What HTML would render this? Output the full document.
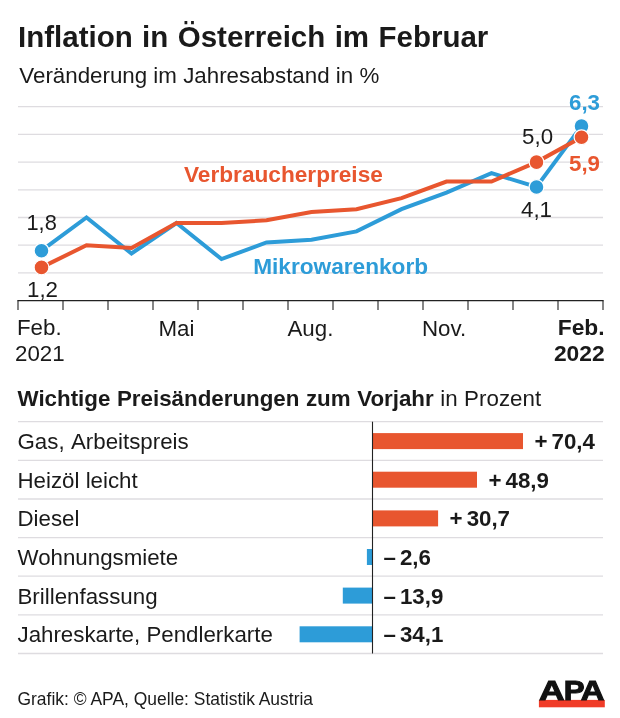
<!DOCTYPE html><html lang="de"><head><meta charset="utf-8"><title>Inflation in Österreich im Februar</title>
<style>html,body{margin:0;padding:0;background:#fff}svg{display:block}text{font-family:"Liberation Sans",Arial,Helvetica,sans-serif;fill:#1a1a1a;font-size:22.3px}.b{font-weight:bold}</style></head><body>
<svg width="620" height="718" viewBox="0 0 620 718">
<rect width="620" height="718" fill="#fff"/>
<text class="b" x="18" y="46.6" style="font-size:29.5px;word-spacing:1.2px" id="t1">Inflation in Österreich im Februar</text>
<text x="19.3" y="82.7" style="font-size:22.33px">Veränderung im Jahresabstand in %</text>
<line x1="18" x2="603" y1="272.9" y2="272.9" stroke="#dedce0" stroke-width="1.3"/>
<line x1="18" x2="603" y1="245.2" y2="245.2" stroke="#dedce0" stroke-width="1.3"/>
<line x1="18" x2="603" y1="217.5" y2="217.5" stroke="#dedce0" stroke-width="1.3"/>
<line x1="18" x2="603" y1="189.8" y2="189.8" stroke="#dedce0" stroke-width="1.3"/>
<line x1="18" x2="603" y1="162.1" y2="162.1" stroke="#dedce0" stroke-width="1.3"/>
<line x1="18" x2="603" y1="134.4" y2="134.4" stroke="#dedce0" stroke-width="1.3"/>
<line x1="18" x2="603" y1="106.7" y2="106.7" stroke="#dedce0" stroke-width="1.3"/>
<line x1="17.4" x2="603.6" y1="300.6" y2="300.6" stroke="#222" stroke-width="1.1"/>
<line x1="18.0" x2="18.0" y1="300.6" y2="310.1" stroke="#222" stroke-width="1.1"/>
<line x1="63.0" x2="63.0" y1="300.6" y2="310.1" stroke="#222" stroke-width="1.1"/>
<line x1="108.0" x2="108.0" y1="300.6" y2="310.1" stroke="#222" stroke-width="1.1"/>
<line x1="153.0" x2="153.0" y1="300.6" y2="310.1" stroke="#222" stroke-width="1.1"/>
<line x1="198.0" x2="198.0" y1="300.6" y2="310.1" stroke="#222" stroke-width="1.1"/>
<line x1="243.0" x2="243.0" y1="300.6" y2="310.1" stroke="#222" stroke-width="1.1"/>
<line x1="288.0" x2="288.0" y1="300.6" y2="310.1" stroke="#222" stroke-width="1.1"/>
<line x1="333.0" x2="333.0" y1="300.6" y2="310.1" stroke="#222" stroke-width="1.1"/>
<line x1="378.0" x2="378.0" y1="300.6" y2="310.1" stroke="#222" stroke-width="1.1"/>
<line x1="423.0" x2="423.0" y1="300.6" y2="310.1" stroke="#222" stroke-width="1.1"/>
<line x1="468.0" x2="468.0" y1="300.6" y2="310.1" stroke="#222" stroke-width="1.1"/>
<line x1="513.0" x2="513.0" y1="300.6" y2="310.1" stroke="#222" stroke-width="1.1"/>
<line x1="558.0" x2="558.0" y1="300.6" y2="310.1" stroke="#222" stroke-width="1.1"/>
<line x1="603.0" x2="603.0" y1="300.6" y2="310.1" stroke="#222" stroke-width="1.1"/>
<polyline points="41.5,250.7 86.5,217.5 131.5,253.5 176.5,223.0 221.5,259.1 266.5,242.4 311.5,239.7 356.5,231.4 401.5,209.2 446.5,192.6 491.5,173.2 536.5,187.0 581.5,126.1" fill="none" stroke="#2d9cd8" stroke-width="4" stroke-linejoin="miter"/>
<polyline points="41.5,267.4 86.5,245.2 131.5,248.0 176.5,223.0 221.5,223.0 266.5,220.3 311.5,212.0 356.5,209.2 401.5,198.1 446.5,181.5 491.5,181.5 536.5,162.1 581.5,137.2" fill="none" stroke="#e8562f" stroke-width="4" stroke-linejoin="miter"/>
<circle cx="41.5" cy="250.7" r="7.4" fill="#2d9cd8" stroke="#fff" stroke-width="1.2"/>
<circle cx="41.5" cy="267.4" r="7.4" fill="#e8562f" stroke="#fff" stroke-width="1.2"/>
<circle cx="536.5" cy="187.0" r="7.4" fill="#2d9cd8" stroke="#fff" stroke-width="1.2"/>
<circle cx="536.5" cy="162.1" r="7.4" fill="#e8562f" stroke="#fff" stroke-width="1.2"/>
<circle cx="581.5" cy="126.1" r="7.4" fill="#2d9cd8" stroke="#fff" stroke-width="1.2"/>
<circle cx="581.5" cy="137.2" r="7.4" fill="#e8562f" stroke="#fff" stroke-width="1.2"/>
<text x="26.5" y="229.8" style="font-size:21.8px">1,8</text>
<text x="27" y="297">1,2</text>
<text x="522.1" y="143.6">5,0</text>
<text x="521" y="216.6">4,1</text>
<text class="b" x="569" y="109.5" style="fill:#2d9cd8">6,3</text>
<text class="b" x="569" y="170.5" style="fill:#e8562f">5,9</text>
<text class="b" x="184" y="181.6" style="fill:#e8562f;font-size:22.65px">Verbraucherpreise</text>
<text class="b" x="253.2" y="273.8" style="fill:#2d9cd8;font-size:22.65px">Mikrowarenkorb</text>
<text x="17" y="335.4">Feb.</text>
<text x="15" y="360.8">2021</text>
<text x="158.5" y="336">Mai</text>
<text x="287.5" y="336">Aug.</text>
<text x="422" y="336">Nov.</text>
<text class="b" x="604.6" y="335.2" style="text-anchor:end;font-size:22.8px">Feb.</text>
<text class="b" x="604.6" y="360.5" style="text-anchor:end;font-size:22.8px">2022</text>
<text x="17.5" y="406" style="font-size:22.35px;word-spacing:0.3px"><tspan class="b">Wichtige Preisänderungen zum Vorjahr</tspan> in Prozent</text>
<line x1="18" x2="603" y1="421.7" y2="421.7" stroke="#dedce0" stroke-width="1.3"/>
<line x1="18" x2="603" y1="460.3" y2="460.3" stroke="#dedce0" stroke-width="1.3"/>
<line x1="18" x2="603" y1="499.0" y2="499.0" stroke="#dedce0" stroke-width="1.3"/>
<line x1="18" x2="603" y1="537.6" y2="537.6" stroke="#dedce0" stroke-width="1.3"/>
<line x1="18" x2="603" y1="576.2" y2="576.2" stroke="#dedce0" stroke-width="1.3"/>
<line x1="18" x2="603" y1="614.9" y2="614.9" stroke="#dedce0" stroke-width="1.3"/>
<line x1="18" x2="603" y1="653.5" y2="653.5" stroke="#dedce0" stroke-width="1.3"/>
<text x="17.5" y="449.1" style="word-spacing:1.4px">Gas, Arbeitspreis</text>
<rect x="372.5" y="433.1" width="150.5" height="16" fill="#e8562f"/>
<text class="b" x="534.5" y="449.1">+<tspan dx="4">70,4</tspan></text>
<text x="17.5" y="487.7">Heizöl leicht</text>
<rect x="372.5" y="471.7" width="104.5" height="16" fill="#e8562f"/>
<text class="b" x="488.5" y="487.7">+<tspan dx="4">48,9</tspan></text>
<text x="17.5" y="526.4">Diesel</text>
<rect x="372.5" y="510.4" width="65.6" height="16" fill="#e8562f"/>
<text class="b" x="449.6" y="526.4">+<tspan dx="4">30,7</tspan></text>
<text x="17.5" y="565.0">Wohnungsmiete</text>
<rect x="366.9" y="549.0" width="5.6" height="16" fill="#2d9cd8"/>
<text class="b" x="383.5" y="565.0">–<tspan dx="4">2,6</tspan></text>
<text x="17.5" y="603.6">Brillenfassung</text>
<rect x="342.8" y="587.6" width="29.7" height="16" fill="#2d9cd8"/>
<text class="b" x="383.5" y="603.6">–<tspan dx="4">13,9</tspan></text>
<text x="17.5" y="642.3">Jahreskarte, Pendlerkarte</text>
<rect x="299.6" y="626.3" width="72.9" height="16" fill="#2d9cd8"/>
<text class="b" x="383.5" y="642.3">–<tspan dx="4">34,1</tspan></text>
<line x1="372.5" x2="372.5" y1="421.7" y2="653.48" stroke="#222" stroke-width="1.1"/>
<text x="17.5" y="705.4" style="font-size:17.45px">Grafik: © APA, Quelle: Statistik Austria</text>
<rect x="538.9" y="699.9" width="65.9" height="7.4" fill="#f03c28"/>
<text class="b" transform="translate(538.9,699.9) scale(1.29,1)" style="fill:#111;font-size:27.4px;stroke:#111;stroke-width:1px;stroke-linejoin:miter">A</text>
<text class="b" transform="translate(563.7,699.9) scale(1.14,1)" style="fill:#111;font-size:27.4px;stroke:#111;stroke-width:1px;stroke-linejoin:miter">P</text>
<text class="b" transform="translate(580.8,699.9) scale(1.195,1)" style="fill:#111;font-size:27.4px;stroke:#111;stroke-width:1px;stroke-linejoin:miter">A</text>
</svg></body></html>
